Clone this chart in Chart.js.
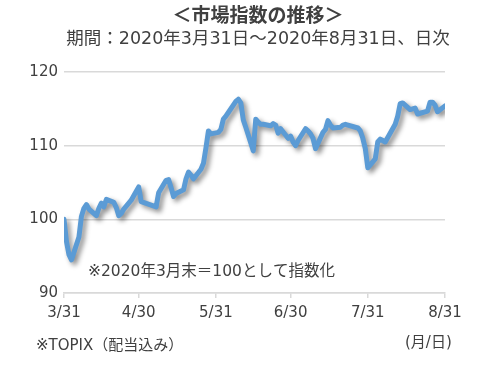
<!DOCTYPE html>
<html>
<head>
<meta charset="utf-8">
<script src="https://cdn.jsdelivr.net/npm/chart.js@4.4.0/dist/chart.umd.min.js"></script>
<style>
  html, body { margin: 0; padding: 0; background: #fff; }
  #wrap { width: 504px; height: 365px; position: relative; }
</style>
</head>
<body>
<div id="wrap"><canvas id="c" width="504" height="365"></canvas></div>
<script>
// TOPIX (dividends included), 3/31/2020 = 100, daily
const dates = [
  '3/31','4/1','4/2','4/3','4/6','4/7','4/8','4/9','4/10','4/13','4/14','4/15','4/16','4/17',
  '4/20','4/21','4/22','4/23','4/24','4/27','4/28','4/30','5/1','5/7','5/8','5/11','5/12','5/13',
  '5/14','5/15','5/18','5/19','5/20','5/21','5/22','5/25','5/26','5/27','5/28','5/29','6/1','6/2',
  '6/3','6/4','6/5','6/8','6/9','6/10','6/11','6/12','6/15','6/16','6/17','6/18','6/19','6/22',
  '6/23','6/24','6/25','6/26','6/29','6/30','7/1','7/2','7/3','7/6','7/7','7/8','7/9','7/10',
  '7/13','7/14','7/15','7/16','7/17','7/20','7/21','7/22','7/27','7/28','7/29','7/30','7/31',
  '8/3','8/4','8/5','8/6','8/7','8/11','8/12','8/13','8/14','8/17','8/18','8/19','8/20','8/21',
  '8/24','8/25','8/26','8/27','8/28','8/31'
];
const values = [
  100.0, 97.0, 95.2, 94.5, 97.6, 100.4, 101.5, 102.0, 101.4, 100.5, 101.5, 102.2, 101.7, 102.7,
  102.3, 101.6, 100.5, 100.8, 101.4, 102.6, 103.2, 104.4, 102.4, 101.7, 103.6, 105.3, 105.4, 104.3,
  103.1, 103.5, 104.0, 105.5, 106.4, 106.0, 105.5, 106.8, 107.6, 109.7, 112.0, 111.6, 111.8, 112.2,
  113.6, 114.0, 114.5, 116.0, 116.3, 115.8, 113.5, 112.5, 109.3, 113.6, 113.2, 112.9, 112.9, 112.7,
  113.0, 112.8, 111.7, 112.3, 111.0, 111.3, 110.5, 110.0, 110.7, 112.3, 112.0, 111.6, 111.0, 109.6,
  111.8, 112.2, 113.4, 112.8, 112.4, 112.5, 112.8, 112.9, 112.4, 112.0, 111.0, 109.6, 107.0,
  108.2, 110.5, 110.9, 110.7, 110.5, 112.9, 114.0, 115.7, 115.8, 114.9, 115.0, 115.1, 114.3, 114.4,
  114.7, 115.9, 115.9, 115.5, 114.6, 115.4
];
const tickLabels = ['3/31','4/30','5/31','6/30','7/31','8/31'];
const yTicks = [90, 100, 110, 120];

const TEXT = '#404040';
// wide Latin digits first, Japanese falls back to Noto CJK
const FONT = '"DejaVu Sans", "Noto Sans CJK JP", sans-serif';

// days since 3/31
function dayNum(s) {
  const p = s.split('/');
  const d = new Date(2020, +p[0] - 1, +p[1]);
  return Math.round((d - new Date(2020, 2, 31)) / 86400000);
}
const points = dates.map((d, i) => ({ x: dayNum(d), y: values[i] }));
const tickDays = tickLabels.map(dayNum);

const shadowPlugin = {
  id: 'shadow',
  beforeDatasetDraw(chart) {
    const ctx = chart.ctx;
    ctx.save();
    ctx.shadowColor = 'rgba(0,0,0,0.45)';
    ctx.shadowBlur = 5;
    ctx.shadowOffsetX = 3;
    ctx.shadowOffsetY = 3;
  },
  afterDatasetDraw(chart) {
    chart.ctx.restore();
  }
};

const textPlugin = {
  id: 'texts',
  afterDraw(chart) {
    const ctx = chart.ctx;
    ctx.save();
    ctx.fillStyle = TEXT;
    ctx.textBaseline = 'middle';
    ctx.textAlign = 'center';
    ctx.font = 'bold 19px "Noto Sans CJK JP", sans-serif';
    ctx.fillText('＜市場指数の推移＞', 258, 15);
    ctx.font = '17.5px ' + FONT;
    ctx.fillText('期間：2020年3月31日～2020年8月31日、日次', 258, 39);
    ctx.textAlign = 'left';
    ctx.font = '15.5px ' + FONT;
    ctx.fillText('※2020年3月末＝100として指数化', 88, 272);
    ctx.font = '15px ' + FONT;
    ctx.fillText('※TOPIX（配当込み）', 36, 346);
    ctx.fillText('(月/日)', 405, 343);
    ctx.restore();
  }
};

new Chart(document.getElementById('c'), {
  type: 'line',
  data: {
    datasets: [{
      data: points,
      borderColor: '#5B9BD5',
      borderWidth: 5,
      pointRadius: 0,
      tension: 0,
      borderJoinStyle: 'round',
      borderCapStyle: 'round',
      fill: false
    }]
  },
  options: {
    responsive: false,
    animation: false,
    layout: { padding: { top: 72, right: 59, left: 0, bottom: 0 } },
    plugins: { legend: { display: false }, tooltip: { enabled: false } },
    scales: {
      x: {
        type: 'linear',
        min: 0,
        max: tickDays[tickDays.length - 1],
        afterBuildTicks(scale) { scale.ticks = tickDays.map(v => ({ value: v })); },
        afterFit(scale) { scale.height = 72; },
        grid: { drawOnChartArea: false, color: '#d9d9d9', lineWidth: 1.5, tickLength: 5 },
        border: { color: '#d9d9d9', width: 1.5 },
        ticks: {
          autoSkip: false,
          maxRotation: 0,
          padding: 6,
          color: TEXT,
          font: { family: FONT, size: 15 },
          callback: (v) => tickLabels[tickDays.indexOf(v)]
        }
      },
      y: {
        min: 90,
        max: 120,
        afterBuildTicks(scale) { scale.ticks = yTicks.map(v => ({ value: v })); },
        afterFit(scale) { scale.width = 64; },
        grid: { color: '#d9d9d9', lineWidth: 1.5, drawTicks: false },
        border: { display: false },
        ticks: { padding: 6, color: TEXT, font: { family: FONT, size: 15 } }
      }
    }
  },
  plugins: [shadowPlugin, textPlugin]
});
</script>
</body>
</html>
